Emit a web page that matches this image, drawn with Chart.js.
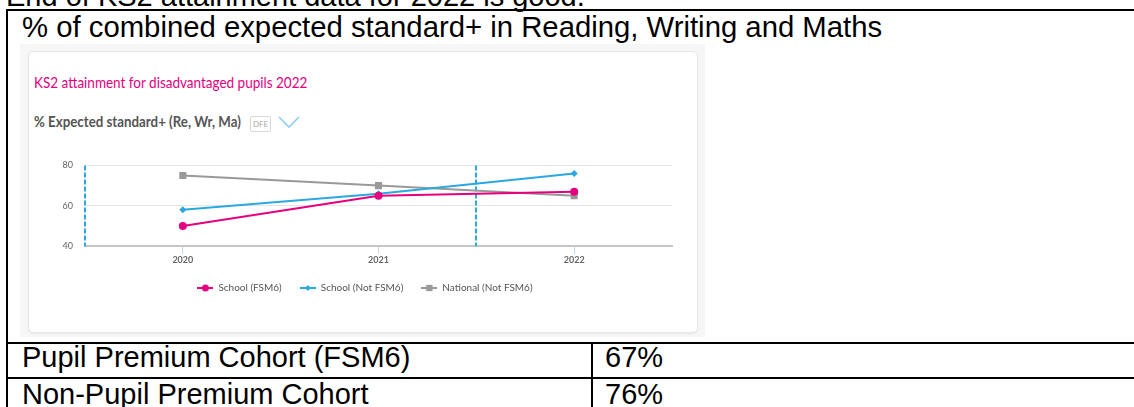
<!DOCTYPE html>
<html>
<head>
<meta charset="utf-8">
<script src="https://cdn.jsdelivr.net/npm/chart.js@4.4.1/dist/chart.umd.min.js"></script>
<style>
  html, body { margin: 0; padding: 0; background: #fff; width: 1134px; height: 407px; overflow: hidden; position: relative; }
  .t { position: absolute; font-family: "Liberation Sans", Arial, sans-serif; font-size: 29px; line-height: 29px; color: #000; white-space: nowrap; }
  .ln { position: absolute; background: #000; }
  #bg { position: absolute; left: 20px; top: 44px; width: 685px; height: 293px; background: #f6f6f6; }
  #card { position: absolute; left: 28px; top: 51px; width: 668px; height: 280px; background: #fff; border: 1px solid #e6e6e6; border-radius: 5px; box-shadow: 0 1px 2px rgba(0,0,0,0.06); }
  .ct { position: absolute; font-family: Lato, "Open Sans", sans-serif; white-space: nowrap; transform-origin: 0 50%; }
  #dfe { position: absolute; left: 250px; top: 116px; width: 19px; height: 14px; border: 1px solid #d8d8d8; border-radius: 2px; font-family: Lato, sans-serif; font-size: 8px; line-height: 14px; text-align: center; color: #aaa; }
  #chart { position: absolute; left: 28px; top: 148px; }
</style>
</head>
<body>
<div class="t" style="left:6px; top:-18px;">End of KS2 attainment data for 2022 is good.</div>

<!-- table borders -->
<div class="ln" style="left:6px; top:9px; width:1128px; height:2px;"></div>
<div class="ln" style="left:6px; top:9px; width:2px; height:398px;"></div>
<div class="ln" style="left:6px; top:342px; width:1128px; height:2px;"></div>
<div class="ln" style="left:6px; top:377px; width:1128px; height:2px;"></div>
<div class="ln" style="left:591px; top:342px; width:2px; height:65px;"></div>

<div class="t" style="left:22px; top:12px; font-size:29.3px;">% of combined expected standard+ in Reading, Writing and Maths</div>

<div id="bg"></div>
<div id="card"></div>
<div class="ct" style="left:34px; top:73px; font-size:15px; color:#e6007e; transform:scaleX(0.9);">KS2 attainment for disadvantaged pupils 2022</div>
<div class="ct" style="left:34px; top:112px; font-size:15px; font-weight:bold; color:#555; transform:scaleX(0.886);">% Expected standard+ (Re, Wr, Ma)</div>
<div id="dfe">DFE</div>
<svg style="position:absolute; left:278px; top:115px;" width="22" height="14"><polyline points="1,2 11,12 21,2" fill="none" stroke="#8fcdee" stroke-width="1.6"/></svg>

<canvas id="chart" width="669" height="155"></canvas>

<div class="t" style="left:22px; top:343px;">Pupil Premium Cohort (FSM6)</div>
<div class="t" style="left:605px; top:343px;">67%</div>
<div class="t" style="left:22px; top:380px;">Non-Pupil Premium Cohort</div>
<div class="t" style="left:605px; top:380px;">76%</div>

<script>
const years = ['2020', '2021', '2022'];
const schoolFSM6 = [50, 65, 67];
const schoolNotFSM6 = [58, 66, 76];
const nationalNotFSM6 = [75, 70, 65];
const yTicks = [40, 60, 80];
const markerLines = [-0.5, 1.5];

const pink = '#e6007e', blue = '#2aa9e0', grey = '#999999';

function legendIcon(color, style, r) {
  const c = document.createElement('canvas');
  c.width = 16; c.height = 10;
  const g = c.getContext('2d');
  g.strokeStyle = color; g.lineWidth = 2;
  g.beginPath(); g.moveTo(0, 5); g.lineTo(16, 5); g.stroke();
  g.fillStyle = color;
  Chart.helpers.drawPoint(g, { pointStyle: style, radius: r, rotation: 0, borderWidth: 0 }, 8, 5);
  return c;
}

const dashPlugin = {
  id: 'dashLines',
  beforeDatasetsDraw(chart) {
    const { ctx, chartArea, scales } = chart;
    ctx.save();
    ctx.strokeStyle = blue;
    ctx.lineWidth = 2;
    ctx.setLineDash([5, 2]);
    markerLines.forEach(v => {
      const x = Math.round(scales.x.getPixelForValue(v));
      ctx.beginPath();
      ctx.moveTo(x, chartArea.top);
      ctx.lineTo(x, chartArea.bottom);
      ctx.stroke();
    });
    ctx.restore();
  }
};

const styles = [
  { label: 'School (FSM6)', data: schoolFSM6, color: pink, ps: 'circle', r: 4, lr: 3.5 },
  { label: 'School (Not FSM6)', data: schoolNotFSM6, color: blue, ps: 'rectRot', r: 3.5, lr: 3 },
  { label: 'National (Not FSM6)', data: nationalNotFSM6, color: grey, ps: 'rect', r: 5, lr: 4.5 }
];

new Chart(document.getElementById('chart'), {
  type: 'line',
  data: {
    labels: years,
    datasets: styles.map(s => ({
      label: s.label,
      data: s.data,
      borderColor: s.color,
      backgroundColor: s.color,
      borderWidth: 2,
      pointStyle: s.ps,
      pointRadius: s.r,
      pointBorderWidth: 0,
      pointHoverRadius: s.r,
      tension: 0
    }))
  },
  options: {
    responsive: false,
    animation: false,
    devicePixelRatio: 1,
    layout: { padding: { top: 11, right: 25, left: 30, bottom: 0 } },
    plugins: {
      tooltip: { enabled: false },
      legend: {
        position: 'bottom',
        labels: {
          usePointStyle: true,
          pointStyleWidth: 16,
          padding: 18,
          color: '#555',
          font: { family: 'Lato', size: 10 },
          generateLabels(chart) {
            return styles.map((s, i) => ({
              text: s.label,
              datasetIndex: i,
              pointStyle: legendIcon(s.color, s.ps, s.lr),
              fillStyle: s.color,
              strokeStyle: s.color,
              lineWidth: 0,
              fontColor: '#555'
            }));
          }
        }
      }
    },
    scales: {
      x: {
        offset: true,
        grid: { drawOnChartArea: false, tickLength: 8, color: '#ccd6eb' },
        border: { color: '#c6c6c6', width: 2 },
        ticks: { color: '#666', font: { family: 'Lato', size: 9, weight: 'bold' }, padding: 0 }
      },
      y: {
        min: yTicks[0],
        max: yTicks[yTicks.length - 1],
        afterBuildTicks(s) { s.ticks = yTicks.map(v => ({ value: v })); },
        afterFit(s) { s.width = 27; },
        grid: { drawTicks: false, color: c => (c.tick && c.tick.value === yTicks[0]) ? 'rgba(0,0,0,0)' : '#e6e6e6' },
        border: { display: false },
        ticks: { color: '#666', font: { family: 'Lato', size: 9 }, padding: 12 }
      }
    }
  },
  plugins: [dashPlugin]
});
</script>
</body>
</html>
